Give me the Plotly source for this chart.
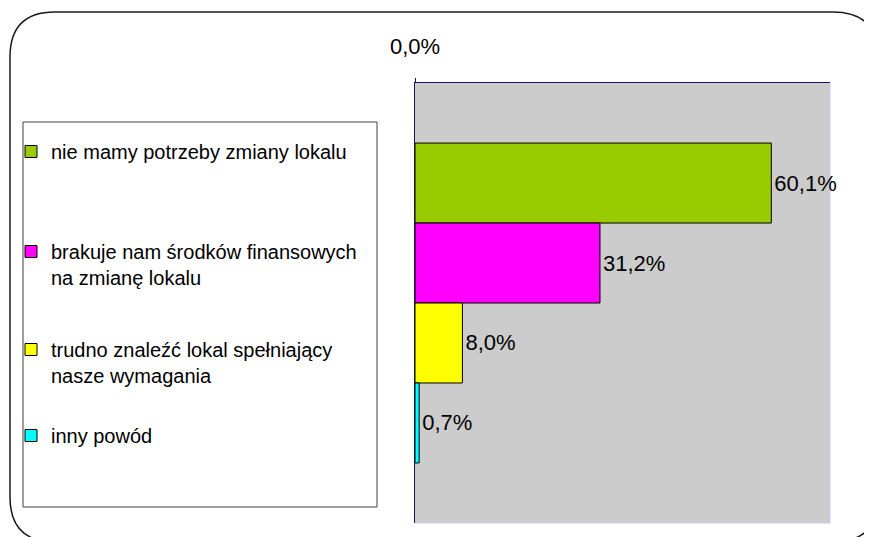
import plotly.graph_objects as go

# ---- data ----
categories = [
    "nie mamy potrzeby zmiany lokalu",
    "brakuje nam środków finansowych<br>na zmianę lokalu",
    "trudno znaleźć lokal spełniający<br>nasze wymagania",
    "inny powód",
]
values = [0.601, 0.312, 0.080, 0.007]
colors = ["#99CC00", "#FF00FF", "#FFFF00", "#00FFFF"]
group = ["odpowiedzi"]
tick_vals = [0.0]

W, H = 872, 537
OX, OY = 8, 8  # page body margin offset
FONT = "Liberation Sans, Arial, sans-serif"


def px(x):
    return (x - OX) / W


def py(y):
    return 1 - (y - OY) / H


# legend top positions (page pixels) for each entry
legend_tops = [132, 232, 330, 416]
legend_names = ["legend", "legend2", "legend3", "legend4"]

fig = go.Figure()
for i, (name, val, col) in enumerate(zip(categories, values, colors)):
    fig.add_trace(go.Bar(
        y=group,
        x=[val],
        name=name,
        orientation="h",
        marker=dict(color=col, line=dict(color="#000000", width=1)),
        texttemplate="%{x:.1%}",
        textposition="outside",
        textfont=dict(family=FONT, size=22, color="#000000"),
        cliponaxis=False,
        constraintext="none",
        legend=legend_names[i],
    ))

layout_legends = {}
for i, ln in enumerate(legend_names):
    layout_legends[ln] = dict(
        x=px(11), y=py(legend_tops[i]),
        xanchor="left", yanchor="top",
        bgcolor="rgba(0,0,0,0)", borderwidth=0,
        font=dict(family=FONT, size=20, color="#000000"),
        valign="top",
    )

# rounded outer frame: left/top edges inside the picture, right/bottom edges beyond it
L, T, R, B, r = 10, 12, 960, 542, 45
RC = 878  # x of the right-hand corner arcs
path = (
    f"M {px(L + r)},{py(T)} H {px(RC - r)} "
    f"Q {px(RC)},{py(T)} {px(RC)},{py(T + r)} "
    f"L {px(R)},{py(T + r)} "
    f"V {py(B - r)} "
    f"L {px(RC)},{py(B - r)} "
    f"Q {px(RC)},{py(B)} {px(RC - r)},{py(B)} "
    f"H {px(L + r)} "
    f"Q {px(L)},{py(B)} {px(L)},{py(B - r)} "
    f"V {py(T + r)} "
    f"Q {px(L)},{py(T)} {px(L + r)},{py(T)}"
)

shapes = [
    dict(type="path", xref="paper", yref="paper", path=path,
         line=dict(color="#1a1a1a", width=1.5), fillcolor="rgba(0,0,0,0)", layer="above"),
    # legend box
    dict(type="rect", xref="paper", yref="paper",
         x0=px(23), x1=px(377), y0=py(507), y1=py(122),
         line=dict(color="#404040", width=1), fillcolor="rgba(0,0,0,0)"),
    # plot-area border (light)
    dict(type="rect", xref="x domain", yref="y domain", x0=0, x1=1, y0=0, y1=1,
         line=dict(color="#C8C8FF", width=1), fillcolor="rgba(0,0,0,0)", layer="below"),
]

fig.update_layout(
    width=W, height=H,
    margin=dict(l=0, r=0, t=0, b=0, autoexpand=False),
    paper_bgcolor="#FFFFFF",
    plot_bgcolor="#CCCCCC",
    barmode="group",
    bargap=0.273,
    bargroupgap=0,
    separators=", ",
    font=dict(family=FONT, color="#000000"),
    showlegend=True,
    xaxis=dict(
        domain=[px(415), px(830)],
        range=[0, 0.7],
        side="top",
        tickvals=tick_vals,
        tickformat=".1%",
        ticks="outside", ticklen=4, tickcolor="#1a1a40", tickwidth=1,
        ticklabelstandoff=15,
        tickfont=dict(family=FONT, size=22, color="#000000"),
        showline=True, linecolor="#1a1a40", linewidth=1,
        showgrid=False, zeroline=False, fixedrange=True,
    ),
    yaxis=dict(
        domain=[py(523), py(83)],
        type="category",
        autorange="reversed",
        showticklabels=False,
        ticks="",
        showline=True, linecolor="#1a1a40", linewidth=1,
        showgrid=False, zeroline=False, fixedrange=True,
    ),
    shapes=shapes,
    **layout_legends,
)

fig.write_html("out.html")
